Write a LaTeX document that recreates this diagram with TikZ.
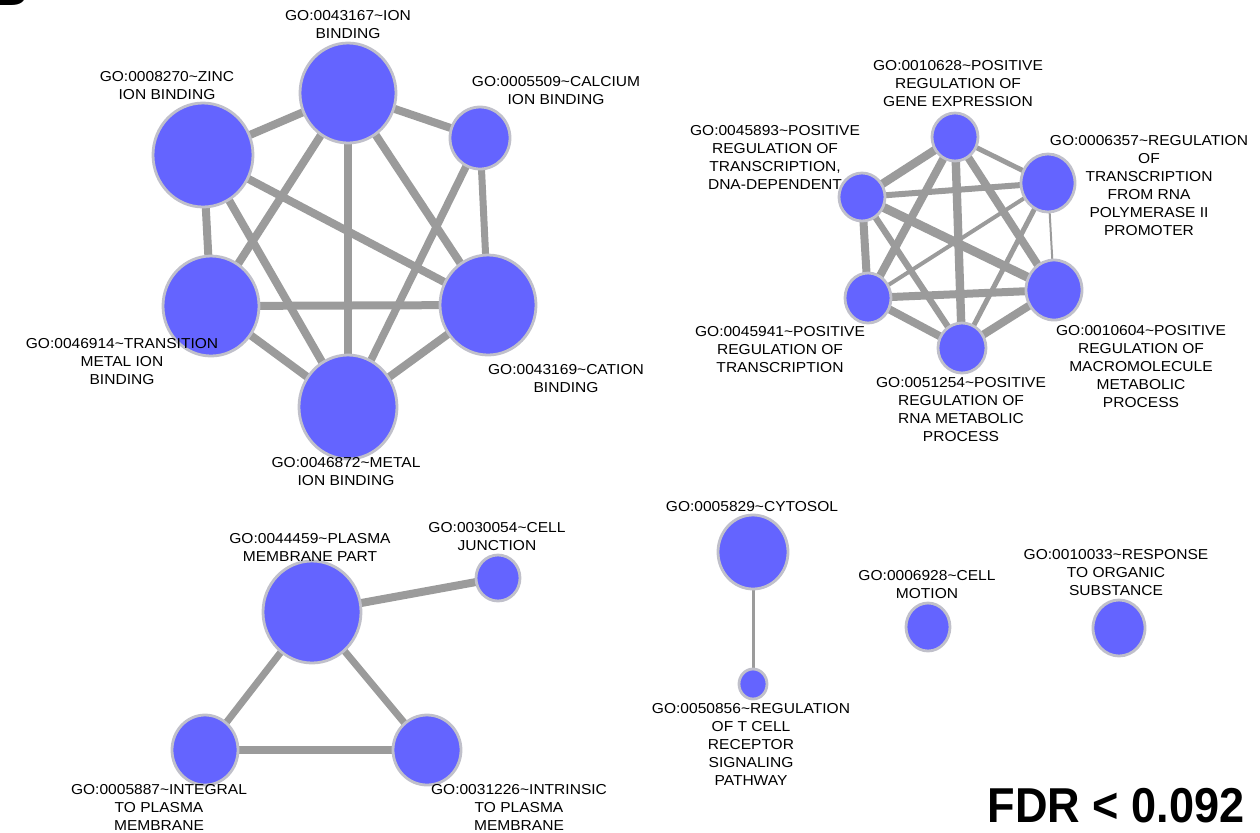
\documentclass[tikz,border=0pt]{standalone}
\usepackage{fontspec}
\setmainfont{Liberation Sans}[FakeStretch=1.08]
\newfontfamily\fdrfont{Liberation Sans}[FakeStretch=0.92]
\usetikzlibrary{shapes.geometric,backgrounds}
\definecolor{nodefill}{RGB}{100,100,255}
\definecolor{nodeborder}{RGB}{192,192,202}
\definecolor{edgegray}{RGB}{155,155,155}
\begin{document}
\begin{tikzpicture}[x=0.5pt,y=-0.5pt,
  go/.style={ellipse, fill=nodefill, draw=nodeborder, line width=1.4pt, inner sep=0pt},
  lbl/.style={font=\fontsize{7.2}{9}\selectfont, align=center, inner sep=0pt, anchor=north},
  edg/.style={draw=edgegray, line width=#1}, edg/.default=4pt]
\useasboundingbox (0,0) rectangle (1260,832);
\node[font=\bfseries\fontsize{24}{24}\selectfont, anchor=base west, inner sep=0pt] (B) at (-10,5) {B};

% ---- cluster 1: ion binding
\node[go, minimum width=48pt, minimum height=50pt] (ion) at (348,93) {};
\node[go, minimum width=50pt, minimum height=52pt] (zinc) at (203,155) {};
\node[go, minimum width=30pt, minimum height=31pt] (cal) at (480,138) {};
\node[go, minimum width=48pt, minimum height=50pt] (trans) at (211,306) {};
\node[go, minimum width=48pt, minimum height=50pt] (cation) at (488,305) {};
\node[go, minimum width=49pt, minimum height=52pt] (metal) at (348,407) {};

\node[lbl] (lion) at (348,10) {GO:0043167\textasciitilde ION\\BINDING};
\node[lbl] (lzinc) at (167,71) {GO:0008270\textasciitilde ZINC\\ION BINDING};
\node[lbl] (lcal) at (556,76) {GO:0005509\textasciitilde CALCIUM\\ION BINDING};
\node[lbl] (ltrans) at (122,338) {GO:0046914\textasciitilde TRANSITION\\METAL ION\\BINDING};
\node[lbl] (lcation) at (566,364) {GO:0043169\textasciitilde CATION\\BINDING};
\node[lbl] (lmetal) at (346,457) {GO:0046872\textasciitilde METAL\\ION BINDING};

% ---- cluster 2: transcription
\node[go, minimum width=23pt, minimum height=24pt] (gene) at (955,137) {};
\node[go, minimum width=23pt, minimum height=24pt] (dna) at (862,197) {};
\node[go, minimum width=27pt, minimum height=29pt] (pol) at (1048,183) {};
\node[go, minimum width=23pt, minimum height=25pt] (transc) at (868,298) {};
\node[go, minimum width=28pt, minimum height=30pt] (macro) at (1054,290) {};
\node[go, minimum width=24pt, minimum height=25pt] (metab) at (962,348) {};

\node[lbl] (lgene) at (958,60) {GO:0010628\textasciitilde POSITIVE\\REGULATION OF\\GENE EXPRESSION};
\node[lbl] (ldna) at (775,125) {GO:0045893\textasciitilde POSITIVE\\REGULATION OF\\TRANSCRIPTION,\\DNA-DEPENDENT};
\node[lbl] (lpol) at (1149,135) {GO:0006357\textasciitilde REGULATION\\OF\\TRANSCRIPTION\\FROM RNA\\POLYMERASE II\\PROMOTER};
\node[lbl] (ltransc) at (780,326) {GO:0045941\textasciitilde POSITIVE\\REGULATION OF\\TRANSCRIPTION};
\node[lbl] (lmetab) at (961,377) {GO:0051254\textasciitilde POSITIVE\\REGULATION OF\\RNA METABOLIC\\PROCESS};
\node[lbl] (lmacro) at (1141,325) {GO:0010604\textasciitilde POSITIVE\\REGULATION OF\\MACROMOLECULE\\METABOLIC\\PROCESS};

% ---- cluster 3: membrane
\node[go, minimum width=49pt, minimum height=51pt] (pmp) at (312,612) {};
\node[go, minimum width=22pt, minimum height=23pt] (cj) at (498,578) {};
\node[go, minimum width=33pt, minimum height=35pt] (int) at (205,750) {};
\node[go, minimum width=34pt, minimum height=35pt] (intr) at (427,750) {};

\node[lbl] (lpmp) at (310,533) {GO:0044459\textasciitilde PLASMA\\MEMBRANE PART};
\node[lbl] (lcj) at (497,522) {GO:0030054\textasciitilde CELL\\JUNCTION};
\node[lbl] (lint) at (159,784) {GO:0005887\textasciitilde INTEGRAL\\TO PLASMA\\MEMBRANE};
\node[lbl] (lintr) at (519,784) {GO:0031226\textasciitilde INTRINSIC\\TO PLASMA\\MEMBRANE};

% ---- others
\node[go, minimum width=35pt, minimum height=37pt] (cyt) at (753,552) {};
\node[go, minimum width=14pt, minimum height=15pt] (tcell) at (753,684) {};
\node[go, minimum width=22pt, minimum height=24pt] (mot) at (928,627) {};
\node[go, minimum width=26pt, minimum height=28pt] (resp) at (1119,628) {};

\node[lbl] (lcyt) at (752,501) {GO:0005829\textasciitilde CYTOSOL};
\node[lbl] (ltcell) at (751,703) {GO:0050856\textasciitilde REGULATION\\OF T CELL\\RECEPTOR\\SIGNALING\\PATHWAY};
\node[lbl] (lmot) at (927,570) {GO:0006928\textasciitilde CELL\\MOTION};
\node[lbl] (lresp) at (1116,549) {GO:0010033\textasciitilde RESPONSE\\TO ORGANIC\\SUBSTANCE};

\node[font=\fdrfont\bfseries\fontsize{24.5}{24.5}\selectfont, anchor=base east, inner sep=0pt] (fdr) at (1245,822) {FDR < 0.092};

\begin{scope}[on background layer]
  % cluster 1
  \draw[edg=4pt] (ion.center) -- (zinc.center);
  \draw[edg=4pt] (ion.center) -- (cal.center);
  \draw[edg=4pt] (ion.center) -- (trans.center);
  \draw[edg=4pt] (ion.center) -- (metal.center);
  \draw[edg=4pt] (ion.center) -- (cation.center);
  \draw[edg=4pt] (zinc.center) -- (trans.center);
  \draw[edg=4pt] (zinc.center) -- (cation.center);
  \draw[edg=4pt] (zinc.center) -- (metal.center);
  \draw[edg=3.5pt] (cal.center) -- (cation.center);
  \draw[edg=3.8pt] (cal.center) -- (metal.center);
  \draw[edg=4pt] (trans.center) -- (cation.center);
  \draw[edg=4pt] (trans.center) -- (metal.center);
  \draw[edg=4pt] (cation.center) -- (metal.center);
  % cluster 2
  \draw[edg=4.2pt] (gene.center) -- (dna.center);
  \draw[edg=2.5pt] (gene.center) -- (pol.center);
  \draw[edg=4pt] (gene.center) -- (transc.center);
  \draw[edg=4.2pt] (gene.center) -- (metab.center);
  \draw[edg=4pt] (gene.center) -- (macro.center);
  \draw[edg=3pt] (dna.center) -- (pol.center);
  \draw[edg=4pt] (dna.center) -- (transc.center);
  \draw[edg=4.5pt] (dna.center) -- (macro.center);
  \draw[edg=3.2pt] (dna.center) -- (metab.center);
  \draw[edg=2pt] (pol.center) -- (transc.center);
  \draw[edg=1pt] (pol.center) -- (macro.center);
  \draw[edg=2.5pt] (pol.center) -- (metab.center);
  \draw[edg=4pt] (transc.center) -- (macro.center);
  \draw[edg=4pt] (transc.center) -- (metab.center);
  \draw[edg=4pt] (macro.center) -- (metab.center);
  % cluster 3
  \draw[edg=4pt] (pmp.center) -- (cj.center);
  \draw[edg=3.5pt] (pmp.center) -- (int.center);
  \draw[edg=3.5pt] (pmp.center) -- (intr.center);
  \draw[edg=4pt] (int.center) -- (intr.center);
  % cytosol
  \draw[edg=1.5pt] (cyt.center) -- (tcell.center);
\end{scope}
\end{tikzpicture}
\end{document}
